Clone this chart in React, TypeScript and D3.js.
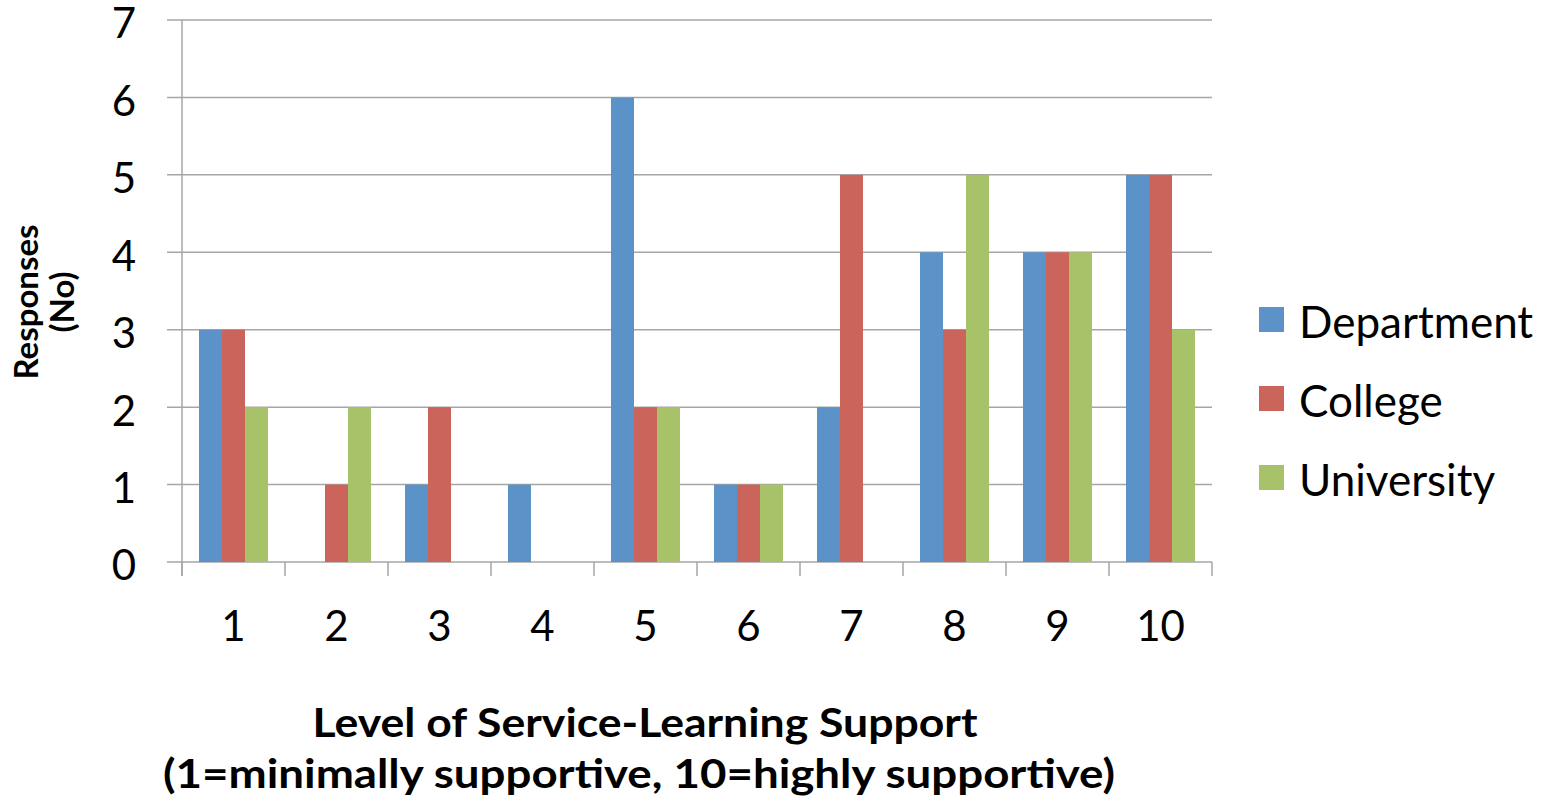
import * as d3 from "d3";
import React from "react";

const categories = ["1", "2", "3", "4", "5", "6", "7", "8", "9", "10"];
const seriesNames = ["Department", "College", "University"];
const department = [3, 0, 1, 1, 6, 1, 2, 4, 4, 5];
const college = [3, 1, 2, 0, 2, 1, 5, 3, 4, 5];
const university = [2, 2, 0, 0, 2, 1, 0, 5, 4, 3];
const yTicks = [0, 1, 2, 3, 4, 5, 6, 7];
const colors = ["#5b93c9", "#cb655c", "#a8c26a"];

const W = 1552;
const H = 803;
const margin = { left: 182, right: 340, top: 20, bottom: 241 };
const font = "Lato, 'Open Sans', sans-serif";

const App: React.FC = () => {
  const series = [department, college, university];
  const x = d3
    .scaleBand<string>()
    .domain(categories)
    .range([margin.left, W - margin.right])
    .paddingInner(0.33)
    .paddingOuter(0.165);
  const inner = d3.scaleBand<number>().domain([0, 1, 2]).range([0, x.bandwidth()]);
  const y = d3.scaleLinear().domain([0, 7]).range([H - margin.bottom, margin.top]);
  const step = x.step();
  const x0 = margin.left;
  const x1 = W - margin.right;
  const yBase = y(0);

  return (
    <svg width={W} height={H} style={{ position: "absolute", left: 0, top: 0 }}>
      <rect width={W} height={H} fill="#fff" />
      {yTicks.map((t) => (
        <g key={t}>
          <line x1={x0 - 15} x2={x1} y1={y(t)} y2={y(t)} stroke="#a6a6a6" strokeWidth={1.5} />
          <text x={136} y={y(t)} dy="0.44em" textAnchor="end" fontSize={42} fontFamily={font}>
            {t}
          </text>
        </g>
      ))}
      <line x1={x0} x2={x0} y1={y(7)} y2={yBase + 14} stroke="#a6a6a6" strokeWidth={1.5} />
      {d3.range(categories.length + 1).map((i) => (
        <line
          key={i}
          x1={x0 + i * step}
          x2={x0 + i * step}
          y1={yBase}
          y2={yBase + 14}
          stroke="#a6a6a6"
          strokeWidth={1.5}
        />
      ))}
      {categories.map((c, ci) =>
        series.map((s, si) =>
          s[ci] > 0 ? (
            <rect
              key={`${c}-${si}`}
              x={(x(c) ?? 0) + (inner(si) ?? 0)}
              y={y(s[ci])}
              width={inner.bandwidth()}
              height={yBase - y(s[ci])}
              fill={colors[si]}
            />
          ) : null
        )
      )}
      {categories.map((c) => (
        <text
          key={c}
          x={(x(c) ?? 0) + x.bandwidth() / 2}
          y={641}
          textAnchor="middle"
          fontSize={42}
          fontFamily={font}
        >
          {c}
        </text>
      ))}
      <text
        x={645}
        y={737}
        textAnchor="middle"
        fontSize={41}
        fontWeight="bold"
        fontFamily={font}
        textLength={665}
        lengthAdjust="spacingAndGlyphs"
      >
        Level of Service-Learning Support
      </text>
      <text
        x={639}
        y={788}
        textAnchor="middle"
        fontSize={41}
        fontWeight="bold"
        fontFamily={font}
        textLength={952}
        lengthAdjust="spacingAndGlyphs"
      >
        (1=minimally supportive, 10=highly supportive)
      </text>
      <g transform="translate(50,302) rotate(-90)">
        <text x={0} y={-12} textAnchor="middle" fontSize={33} fontWeight="bold" fontFamily={font}>
          Responses
        </text>
        <text x={0} y={24} textAnchor="middle" fontSize={33} fontWeight="bold" fontFamily={font}>
          (No)
        </text>
      </g>
      {seriesNames.map((n, i) => (
        <g key={n} transform={`translate(1259,${320 + i * 79})`}>
          <rect x={0} y={-13} width={25} height={25} fill={colors[i]} />
          <text x={40} y={0} dy="0.4em" fontSize={44} fontFamily={font}>
            {n}
          </text>
        </g>
      ))}
    </svg>
  );
};

export default App;
